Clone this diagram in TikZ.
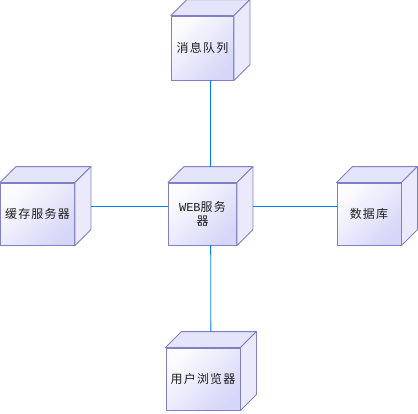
\documentclass[tikz,border=0pt]{standalone}
\usepackage{fontspec}
\setmainfont{Noto Sans CJK SC}[LetterSpace=10]
\newfontfamily\webfont{Liberation Mono}
\definecolor{edgec}{RGB}{128,128,200}
\definecolor{lightc}{RGB}{252,252,255}
\definecolor{darkc}{RGB}{214,214,248}
\definecolor{topc}{RGB}{228,228,250}
\definecolor{sidec}{RGB}{234,234,252}
\definecolor{linkc}{RGB}{0,128,255}
\definecolor{txtc}{RGB}{30,30,30}
\tikzset{
  cubefront/.style={draw=edgec, line width=0.9pt, shading=axis, top color=lightc, bottom color=darkc, shading angle=45, inner sep=0pt, align=center, text=txtc, font=\fontsize{12}{14.5}\selectfont},
  cubetop/.style={draw=edgec, line width=0.9pt, fill=topc, line join=round},
  cubeside/.style={draw=edgec, line width=0.9pt, fill=sidec, line join=round},
  cubebox/.style={draw=none, inner sep=0pt},
  link/.style={draw=linkc, line width=0.8pt}
}
\newcommand\mkcube[6]{%
  \node[cubefront, minimum width=#4, minimum height=#5] (#1) at (#2,#3) {#6};
  \path[cubetop] (#1.north west) -- ++(16,-16) -- ([shift={(16,-16)}]#1.north east) -- (#1.north east) -- cycle;
  \path[cubeside] (#1.north east) -- ++(16,-16) -- ([shift={(16,-16)}]#1.south east) -- (#1.south east) -- cycle;
  \node[cubebox, minimum width=#4+16, minimum height=#5+16] (#1b) at (#2+8,#3-8) {};
}
\begin{document}
\begin{tikzpicture}[x=1pt, y=-1pt]
\useasboundingbox (0,0) rectangle (418,413);
\mkcube{mq}{202.5}{48}{62}{64}{消息队列}
\mkcube{web}{202.5}{214}{68}{62}{{\webfont WEB}服务\\器}
\mkcube{cache}{37.5}{214}{74}{62}{缓存服务器}
\mkcube{db}{369}{214}{64}{62}{数据库}
\mkcube{br}{203}{379}{74}{62}{用户浏览器}
\draw[link] (mqb) -- (webb);
\draw[link] (webb) -- (brb);
\draw[link] (cacheb) -- (webb);
\draw[link] (webb) -- (dbb);
\end{tikzpicture}
\end{document}
